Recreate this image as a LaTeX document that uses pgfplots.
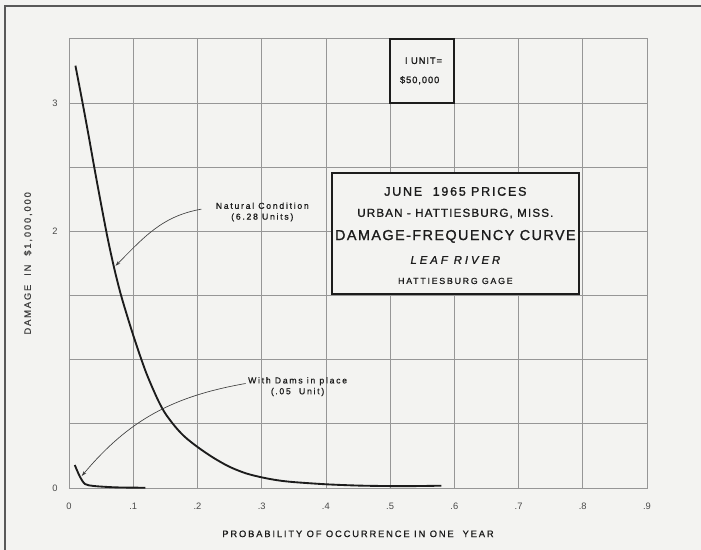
\documentclass[border=0pt]{standalone}
\usepackage{pgfplots}
\pgfplotsset{compat=1.18}
\usetikzlibrary{arrows.meta}
\usepackage{fontspec}
\setmainfont{Liberation Sans}
\newfontfamily\letA[LetterSpace=10,FakeBold=1.2]{Liberation Sans}
\newfontfamily\letB[LetterSpace=14,FakeBold=1.2]{Liberation Sans}
\newfontfamily\letC[LetterSpace=20,FakeBold=0.9]{Liberation Sans}
\newfontfamily\letD[LetterSpace=26,FakeBold=1.2]{Liberation Sans}
\definecolor{paper}{RGB}{243,243,241}
\definecolor{ink}{RGB}{28,28,28}
\definecolor{gridc}{RGB}{150,150,150}

\begin{document}
\begin{tikzpicture}[x=1pt,y=1pt]
\fill[paper] (-51.75,-46.5) rectangle (474,366);
\draw[gray!70!black, line width=0.9pt] (-48,-46.5) -- (-48,361.5) -- (474,361.5);
\begin{axis}[
  at={(0,0)}, anchor=south west,
  scale only axis, width=433.5pt, height=337pt,
  xmin=0, xmax=0.9, ymin=0, ymax=3.5,
  xtick={0,0.1,0.2,0.3,0.4,0.5,0.6,0.7,0.8,0.9},
  xticklabels={0,.1,.2,.3,.4,.5,.6,.7,.8,.9},
  ytick={0,0.5,1,1.5,2,2.5,3,3.5},
  yticklabels={0,,,,2,,3,},
  grid=major,
  major grid style={gridc, line width=0.5pt},
  axis line style={gridc, line width=0.6pt},
  major tick length=0pt,
  tick label style={font=\fontsize{7}{8}\selectfont, text=ink!80},
  xticklabel style={yshift=-8pt},
  yticklabel style={xshift=-5pt},
  xlabel={PROBABILITY OF OCCURRENCE IN ONE\ \ YEAR},
  ylabel={DAMAGE\ \ IN\ \ \$1,000,000},
  xlabel style={at={(axis description cs:0.5,-0.102)}, anchor=center, font=\letC\fontsize{7}{8}\selectfont, text=ink},
  ylabel style={at={(axis description cs:-0.071,0.5)}, anchor=center, font=\letC\fontsize{7}{8}\selectfont, text=ink!85},
  axis background/.style={fill=paper},
  clip=false,
]
% natural condition
\addplot[ink, line width=1.4pt, smooth] coordinates {
(0.010,3.29) (0.020,3.03) (0.030,2.76) (0.040,2.48) (0.050,2.21)
(0.060,1.95) (0.070,1.72) (0.080,1.52) (0.090,1.35) (0.100,1.19)
(0.110,1.04) (0.120,0.90) (0.130,0.78) (0.140,0.67) (0.150,0.58)
(0.165,0.48) (0.180,0.40) (0.200,0.32) (0.225,0.235) (0.250,0.165)
(0.275,0.115) (0.300,0.083) (0.325,0.060) (0.350,0.046) (0.400,0.029)
(0.450,0.019) (0.500,0.015) (0.540,0.015) (0.580,0.018)
};
% with dams in place
\addplot[ink, line width=1.4pt, smooth] coordinates {
(0.009,0.179) (0.017,0.088) (0.025,0.031) (0.038,0.016)
(0.060,0.008) (0.080,0.004) (0.119,0.002)
};

% unit box
\draw[ink, line width=1.5pt, fill=paper] (axis cs:0.5,3.0) rectangle (axis cs:0.6,3.5);
\node[ink, font=\letA\fontsize{7}{8}\selectfont] at (axis cs:0.552,3.328) {I UNIT=};
\node[ink, font=\letA\fontsize{7}{8}\selectfont] at (axis cs:0.546,3.176) {\$50,000};

% title box
\draw[ink, line width=1.5pt, fill=paper] (axis cs:0.409,1.51) rectangle (axis cs:0.794,2.45);
\node[ink, font=\letB\fontsize{9.4}{10}\selectfont] at (axis cs:0.6016,2.31) {JUNE\ \ 1965 PRICES};
\node[ink, font=\letA\fontsize{8.7}{10}\selectfont] at (axis cs:0.6016,2.138) {URBAN - HATTIESBURG, MISS.};
\node[ink, font=\letA\fontsize{10.8}{12}\selectfont] at (axis cs:0.6016,1.96) {DAMAGE-FREQUENCY CURVE};
\node[ink, font=\letD\itshape\fontsize{8.5}{10}\selectfont] at (axis cs:0.6016,1.776) {LEAF RIVER};
\node[ink, font=\letC\fontsize{6.6}{8}\selectfont] at (axis cs:0.6016,1.613) {HATTIESBURG GAGE};

% annotations
\node[ink, align=center, font=\letC\fontsize{6.5}{8.1}\selectfont] at (axis cs:0.301,2.15) {Natural Condition\\(6.28 Units)};
\draw[gray!50!black, line width=0.5pt, -{Stealth[length=4pt,width=2.5pt]}] (axis cs:0.206,2.172) to[out=190,in=45] (axis cs:0.0723,1.73);
\node[ink, align=center, font=\letC\fontsize{6.5}{8.1}\selectfont] at (axis cs:0.356,0.79) {With Dams in place\\(\,.05\ \ Unit)};
\draw[gray!50!black, line width=0.5pt, -{Stealth[length=4pt,width=2.5pt]}] (axis cs:0.275,0.814) to[out=190,in=50] (axis cs:0.0198,0.093);
\end{axis}
\pgfresetboundingbox
\path[use as bounding box] (-51.75,-46.5) rectangle (474,366);
\end{tikzpicture}
\end{document}
